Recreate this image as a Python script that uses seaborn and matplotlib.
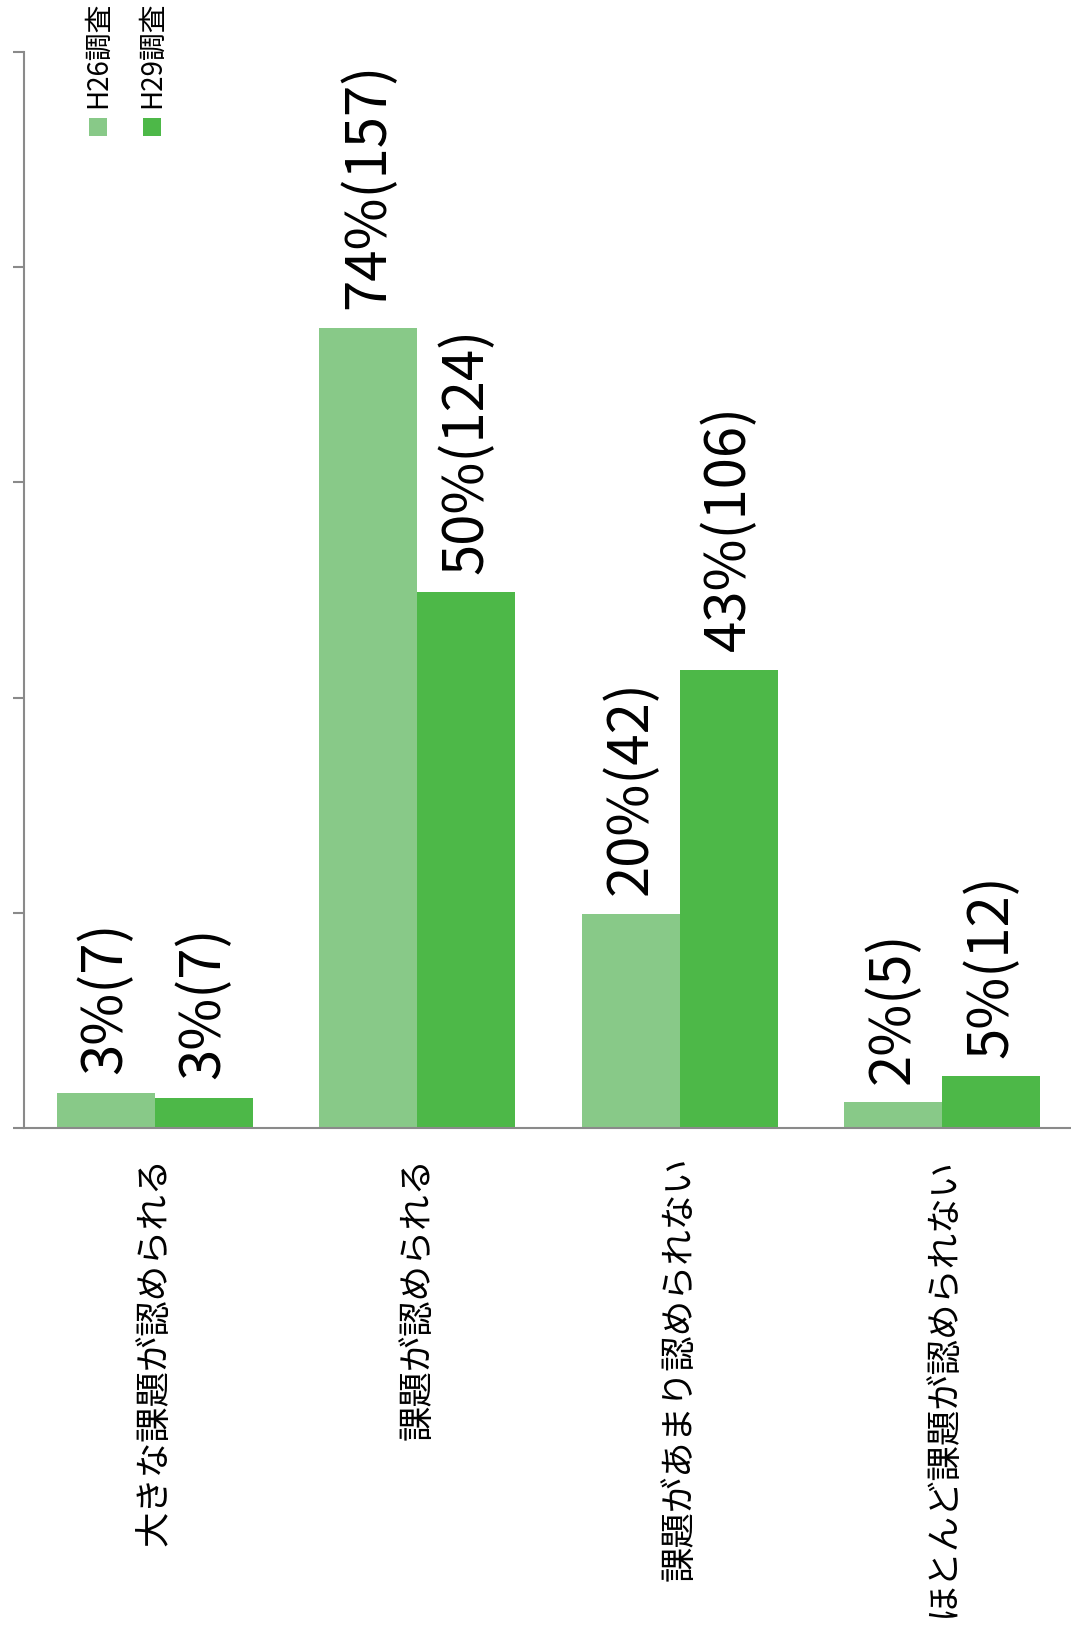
import matplotlib
matplotlib.use("Agg")
import matplotlib.pyplot as plt
import seaborn as sns
import pandas as pd
from matplotlib.patches import Rectangle

# data
categories = ["大きな課題が認められる", "課題が認められる", "課題があまり認められない", "ほとんど課題が認められない"]
surveys = ["H26調査", "H29調査"]
h26_pct = [3.3, 74.4, 19.9, 2.4]
h29_pct = [2.8, 49.8, 42.6, 4.8]
h26_n = [7, 157, 42, 5]
h29_n = [7, 124, 106, 12]
colors = ["#88C988", "#4DB848"]
axis_gray = "#8A8A8A"

sns.set_style("white")
plt.rcParams['font.family'] = ['Noto Sans CJK JP', 'DejaVu Sans']
plt.rcParams['text.color'] = 'black'
plt.rcParams['xtick.labelcolor'] = 'black'

df = pd.DataFrame({
    "cat": categories * 2,
    "pct": h26_pct + h29_pct,
    "survey": [surveys[0]] * 4 + [surveys[1]] * 4,
})

fig = plt.figure(figsize=(10.71, 16.33), dpi=100)
ax = fig.add_axes([0.0221, 0.3086, 0.9804, 0.6589])

sns.barplot(data=df, x="cat", y="pct", hue="survey", palette=colors,
            width=0.747, gap=0, saturation=1, legend=False, linewidth=0, ax=ax)

# value labels, rotated like the rest of the chart
for cont, pcts, ns in zip(ax.containers, [h26_pct, h29_pct], [h26_n, h29_n]):
    labels = [f"{round(p)}%({n})" for p, n in zip(pcts, ns)]
    ax.bar_label(cont, labels=labels, padding=14, rotation=90, fontsize=40.5, color="black")

ax.set_ylim(0, 100)
ax.set_xlim(-0.5, 3.5)
ax.set_yticks([0, 20, 40, 60, 80, 100])
ax.set_yticklabels([])
ax.set_xlabel("")
ax.set_ylabel("")

# category labels on major ticks, boundary ticks as minor
ax.set_xticks(range(4))
ax.set_xticklabels(categories, rotation=90, fontsize=25.5, color="black")
ax.set_xticks([-0.5, 0.5, 1.5, 2.5, 3.5], minor=True)
ax.tick_params(axis="x", which="major", length=0, pad=20)
ax.tick_params(axis="x", which="minor", length=8.5, width=1.5, color=axis_gray, direction="out")
ax.tick_params(axis="y", which="major", length=8, width=1.5, color=axis_gray, direction="out", left=True)

for side in ["top", "right"]:
    ax.spines[side].set_visible(False)
for side in ["left", "bottom"]:
    ax.spines[side].set_color(axis_gray)
    ax.spines[side].set_linewidth(1.5)

# rotated legend at the top left
legend_x = [0.0831, 0.1335]
for lx, label, c in zip(legend_x, surveys, colors):
    fig.patches.append(Rectangle((lx, 0.9161), 0.0168, 0.011, transform=fig.transFigure,
                                 facecolor=c, edgecolor="none"))
    fig.text(lx + 0.0084, 0.9339, label, rotation=90, ha="center", va="bottom",
             fontsize=20, color="black")

fig.savefig("out.png", dpi=100)
